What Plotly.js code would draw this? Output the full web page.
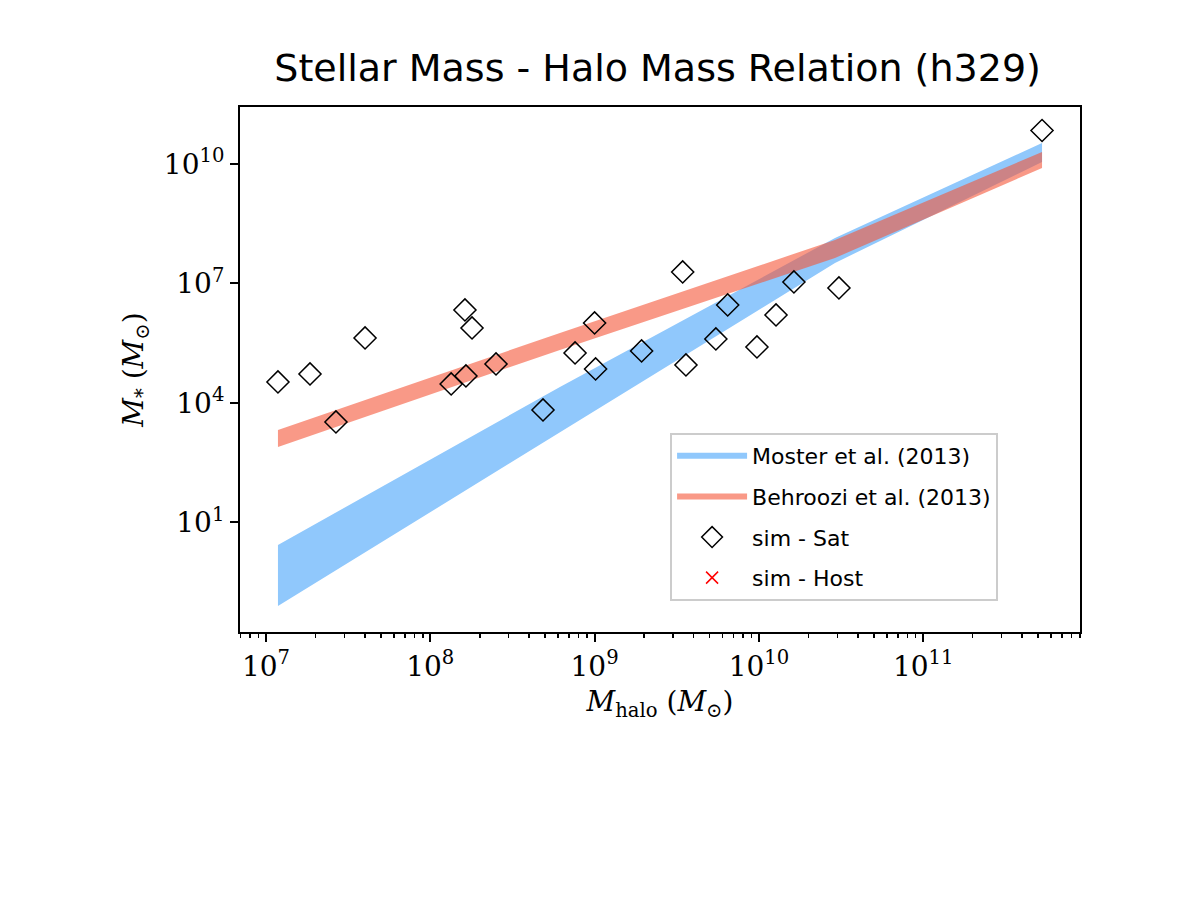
<!DOCTYPE html>
<html><head><meta charset="utf-8">
<script src="https://cdn.plot.ly/plotly-3.0.1.min.js"></script>
<style>body{margin:0;background:#fff}</style></head>
<body><div id="chart" style="width:1200px;height:900px"></div>
<script>
// log10 values
const bandLogMhalo = [7.073, 8.789, 10.463, 11.723];
const mosterUpper = [0.435, 4.402, 8.143, 10.528];
const mosterLower = [-1.097, 3.272, 7.515, 10.05];
const behrooziUpper = [3.322, 5.757, 8.092, 10.302];
const behrooziLower = [2.895, 5.331, 7.64, 9.90];
const satLogMhalo = [7.073,7.268,7.426,7.603,8.127,8.217,8.211,8.254,8.4,8.686,8.881,9.0,9.006,9.286,9.536,9.556,9.738,9.81,9.988,10.104,10.213,10.487,11.723];
const satLogMstar = [4.527,4.728,3.523,5.632,4.477,4.678,6.335,5.883,4.979,3.824,5.255,6.009,4.854,5.306,7.289,4.954,5.607,6.46,5.406,6.209,7.038,6.887,10.84];
const xTickExp = [7,8,9,10,11];
const yTickExp = [1,4,7,10];

const p = a => a.map(v => Math.pow(10, v));
const bx = p(bandLogMhalo);
const traces = [
 {x:bx, y:p(mosterLower), mode:'lines', line:{width:0}, showlegend:false, hoverinfo:'skip', legendgroup:'a'},
 {x:bx, y:p(mosterUpper), mode:'none', fill:'tonexty', fillcolor:'#90c8fc', name:'Moster et al. (2013)', legendgroup:'a'},
 {x:bx, y:p(behrooziLower), mode:'lines', line:{width:0}, showlegend:false, hoverinfo:'skip', legendgroup:'b'},
 {x:bx, y:p(behrooziUpper), mode:'none', fill:'tonexty', fillcolor:'rgba(245,85,55,0.6)', name:'Behroozi et al. (2013)', legendgroup:'b'},
 {x:p(satLogMhalo), y:p(satLogMstar), mode:'markers', name:'sim - Sat', legendgroup:'c',
  marker:{symbol:'diamond-open', size:17, color:'black', line:{width:1.5, color:'black'}}},
 {x:[null], y:[null], mode:'markers', name:'sim - Host', legendgroup:'d', marker:{symbol:'x-thin-open', size:12, color:'red', line:{width:1.5,color:'red'}}}
];
const minorX = [];
for (let e=6;e<12;e++) for (let m=2;m<10;m++) minorX.push(m*Math.pow(10,e));
const serif = 'DejaVu Serif, serif';
const layout = {
 width:1200, height:900, paper_bgcolor:'#fff', plot_bgcolor:'#fff',
 margin:{l:240, r:120, t:107, b:268},
 title:{text:'Stellar Mass - Halo Mass Relation (h329)', x:0.548, xanchor:'center', y:0.925, yanchor:'middle', font:{family:'DejaVu Sans', size:38, color:'black'}},
 showlegend:true,
 legend:{x:0.512, y:0.379, xanchor:'left', yanchor:'top', bgcolor:'rgba(255,255,255,0.8)', bordercolor:'#cccccc', borderwidth:2,
   font:{family:'DejaVu Sans', size:22, color:'black'}, traceorder:'grouped', tracegroupgap:9, itemwidth:70},
 xaxis:{type:'log', range:[6.842, 11.954], showgrid:false, zeroline:false, showline:true, mirror:true, linecolor:'black', linewidth:2,
   ticks:'outside', ticklen:8, tickwidth:2, tickcolor:'black',
   tickvals:xTickExp.map(e=>Math.pow(10,e)), ticktext:xTickExp.map(e=>'10<sup>'+e+'</sup>'),
   tickfont:{family:serif, size:28, color:'black'},
   minor:{tickvals:minorX, ticks:'outside', ticklen:4, tickwidth:1.5, tickcolor:'black'},
   title:{text:'<i>M</i><sub>halo</sub> (<i>M</i><sub>⊙</sub>)', font:{family:serif, size:28, color:'black'}, standoff:10}},
 yaxis:{type:'log', range:[-1.75, 11.43], showgrid:false, zeroline:false, showline:true, mirror:true, linecolor:'black', linewidth:2,
   ticks:'outside', ticklen:8, tickwidth:2, tickcolor:'black',
   tickvals:yTickExp.map(e=>Math.pow(10,e)), ticktext:yTickExp.map(e=>'10<sup>'+e+'</sup>'),
   tickfont:{family:serif, size:28, color:'black'},
   title:{text:'<i>M</i><sub>*</sub> (<i>M</i><sub>⊙</sub>)', font:{family:serif, size:28, color:'black'}, standoff:12}}
};
Plotly.newPlot('chart', traces, layout, {staticPlot:true});
</script></body></html>
